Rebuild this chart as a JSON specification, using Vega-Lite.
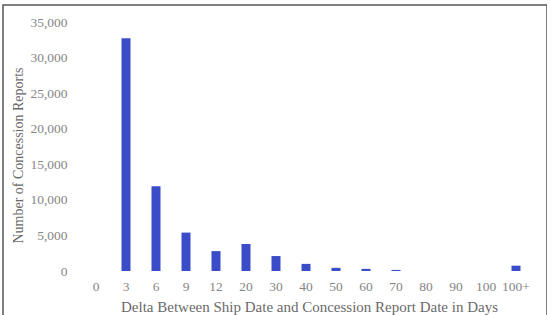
{
  "$schema": "https://vega.github.io/schema/vega-lite/v6.json",
  "width": 544,
  "height": 320,
  "autosize": {"type": "none"},
  "padding": {"left": 3, "top": 5, "right": 0, "bottom": 0},
  "background": "white",
  "data": {
    "values": [
      {"delta": "0", "reports": 0},
      {"delta": "3", "reports": 32700},
      {"delta": "6", "reports": 11900},
      {"delta": "9", "reports": 5400},
      {"delta": "12", "reports": 2800},
      {"delta": "20", "reports": 3800},
      {"delta": "30", "reports": 2100},
      {"delta": "40", "reports": 1000},
      {"delta": "50", "reports": 450},
      {"delta": "60", "reports": 300},
      {"delta": "70", "reports": 150},
      {"delta": "80", "reports": 0},
      {"delta": "90", "reports": 0},
      {"delta": "100", "reports": 0},
      {"delta": "100+", "reports": 750}
    ]
  },
  "mark": {"type": "bar", "color": "#3b4cc8"},
  "encoding": {
    "x": {
      "field": "delta",
      "type": "ordinal",
      "sort": null,
      "scale": {"range": [78, 528], "paddingInner": 0.7, "paddingOuter": 0.35, "align": 0.5},
      "axis": {
        "title": "Delta Between Ship Date and Concession Report Date in Days",
        "labelAngle": 0,
        "domain": false,
        "ticks": false,
        "tickSize": 0,
        "labelPadding": 0,
        "offset": -46,
        "titlePadding": 7,
        "titleX": 306
      }
    },
    "y": {
      "field": "reports",
      "type": "quantitative",
      "scale": {"domain": [-7590, 37390], "nice": false, "zero": false},
      "axis": {
        "title": "Number of Concession Reports",
        "values": [0, 5000, 10000, 15000, 20000, 25000, 30000, 35000],
        "format": ",d",
        "titleFontSize": 14,
        "grid": false,
        "domain": false,
        "ticks": false,
        "tickSize": 0,
        "labelPadding": 0,
        "offset": -64,
        "titlePadding": 4,
        "titleY": 150
      }
    },
    "y2": {"datum": 0}
  },
  "config": {
    "font": "Liberation Serif",
    "view": {"stroke": "#555", "strokeWidth": 1.5},
    "axis": {
      "labelFont": "Liberation Serif",
      "titleFont": "Liberation Serif",
      "labelFontSize": 13.5,
      "titleFontSize": 15,
      "labelColor": "#858585",
      "titleColor": "#6a6a6a",
      "titleFontWeight": "normal"
    }
  }
}
